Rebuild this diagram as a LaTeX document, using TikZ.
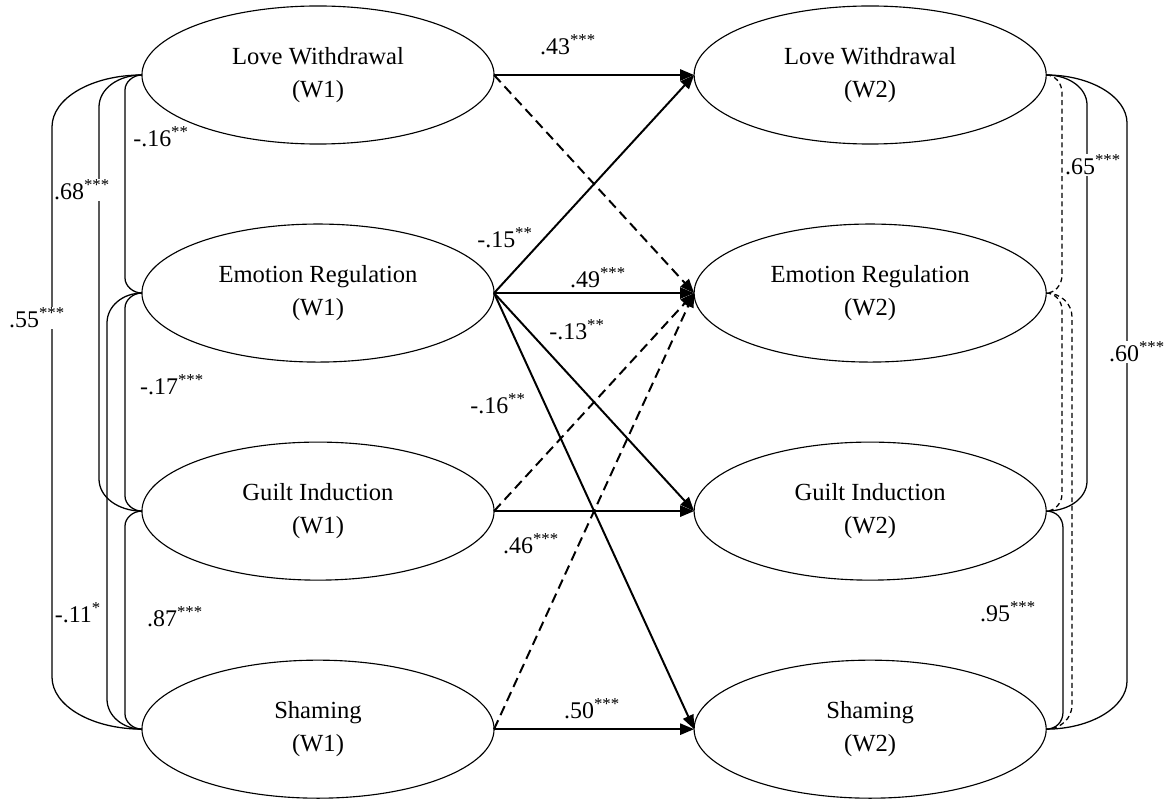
\documentclass[tikz,border=0pt]{standalone}
\usepackage{fontspec}
\setmainfont{Liberation Serif}
\usetikzlibrary{positioning, arrows.meta, shapes.geometric}

\begin{document}
\begin{tikzpicture}[
    x=0.025cm, y=-0.025cm,
    >={Triangle[length=10pt, width=8pt]},
    latent/.style={
        ellipse,
        draw,
        line width=0.8pt,
        minimum width=8.8cm,
        minimum height=3.45cm,
        inner sep=0pt,
        outer sep=0pt,
        align=center,
        font=\fontsize{17.5}{24}\selectfont
    },
    path/.style={
        ->,
        line width=1.4pt
    },
    dpath/.style={
        path,
        dash pattern=on 7pt off 4pt
    },
    cov/.style={
        line width=0.9pt
    },
    dcov/.style={
        cov,
        dash pattern=on 3.5pt off 2.5pt
    },
    coef/.style={
        font=\fontsize{17}{20}\selectfont,
        inner sep=1pt
    },
    coefbg/.style={
        coef,
        fill=white
    }
]
\useasboundingbox (0,0) rectangle (1168,800);

% 1. Wave 1 (left column)
\node[latent] (lw1) at (318,75) {Love Withdrawal\\(W1)};
\node[latent, below=2cm of lw1] (er1) {Emotion Regulation\\(W1)};
\node[latent, below=2cm of er1] (gi1) {Guilt Induction\\(W1)};
\node[latent, below=2cm of gi1] (sh1) {Shaming\\(W1)};

% 2. Wave 2 (right column)
\node[latent, right=5cm of lw1] (lw2) {Love Withdrawal\\(W2)};
\node[latent, below=2cm of lw2] (er2) {Emotion Regulation\\(W2)};
\node[latent, below=2cm of er2] (gi2) {Guilt Induction\\(W2)};
\node[latent, below=2cm of gi2] (sh2) {Shaming\\(W2)};

% 3. Cross-lagged paths
\draw[path] (lw1.east) -- (lw2.west);
\draw[dpath] (lw1.east) -- (er2.west);
\draw[path] (er1.east) -- (lw2.west);
\draw[path] (er1.east) -- (er2.west);
\draw[path] (er1.east) -- (gi2.west);
\draw[path] (er1.east) -- (sh2.west);
\draw[dpath] (gi1.east) -- (er2.west);
\draw[path] (gi1.east) -- (gi2.west);
\draw[dpath] (sh1.east) -- (er2.west);
\draw[path] (sh1.east) -- (sh2.west);

\node[coef] (b43) at (568,45) {.43\textsuperscript{***}};
\node[coef] (b15) at (505,238) {-.15\textsuperscript{**}};
\node[coef] (b49) at (598,278) {.49\textsuperscript{***}};
\node[coef] (b13) at (577,330) {-.13\textsuperscript{**}};
\node[coef] (b16) at (498,404) {-.16\textsuperscript{**}};
\node[coef] (b46) at (531,544) {.46\textsuperscript{***}};
\node[coef] (b50) at (592,709) {.50\textsuperscript{***}};

% 4. Covariances at W1
\draw[cov] (lw1.west) .. controls (133,75) and (125,82) .. (125,90) -- (125,278)
    .. controls (125,286) and (133,293) .. (er1.west);
\draw[cov] (lw1.west) .. controls (118,75) and (99,89) .. (99,107) -- (99,479)
    .. controls (99,497) and (118,511) .. (gi1.west);
\draw[cov] (lw1.west) .. controls (92,75) and (52,98) .. (52,127) -- (52,677)
    .. controls (52,706) and (92,729) .. (sh1.west);
\draw[cov] (er1.west) .. controls (133,293) and (125,300) .. (125,308) -- (125,496)
    .. controls (125,504) and (133,511) .. (gi1.west);
\draw[cov] (er1.west) .. controls (123,293) and (107,306) .. (107,323) -- (107,699)
    .. controls (107,716) and (123,729) .. (sh1.west);
\draw[cov] (gi1.west) .. controls (133,511) and (125,518) .. (125,526) -- (125,714)
    .. controls (125,722) and (133,729) .. (sh1.west);

\node[coef] (r16) at (161,137) {-.16\textsuperscript{**}};
\node[coefbg] (r68) at (82,190) {.68\textsuperscript{***}};
\node[coefbg] (r55) at (37,318) {.55\textsuperscript{***}};
\node[coef] (r17) at (172,385) {-.17\textsuperscript{***}};
\node[coef] (r11) at (78,613) {-.11\textsuperscript{*}};
\node[coef] (r87) at (175,617) {.87\textsuperscript{***}};

% 5. Covariances at W2
\draw[dcov] (lw2.east) .. controls (1055,75) and (1062,83) .. (1062,93) -- (1062,275)
    .. controls (1062,285) and (1055,293) .. (er2.east);
\draw[cov] (lw2.east) .. controls (1069,75) and (1087,88) .. (1087,105) -- (1087,481)
    .. controls (1087,498) and (1069,511) .. (gi2.east);
\draw[cov] (lw2.east) .. controls (1091,75) and (1127,97) .. (1127,123) -- (1127,681)
    .. controls (1127,707) and (1091,729) .. (sh2.east);
\draw[dcov] (er2.east) .. controls (1055,293) and (1062,301) .. (1062,310) -- (1062,494)
    .. controls (1062,503) and (1055,511) .. (gi2.east);
\draw[dcov] (er2.east) .. controls (1061,293) and (1072,304) .. (1072,317) -- (1072,705)
    .. controls (1072,718) and (1061,729) .. (sh2.east);
\draw[cov] (gi2.east) .. controls (1056,511) and (1063,518) .. (1063,528) -- (1063,712)
    .. controls (1063,722) and (1056,729) .. (sh2.east);

\node[coefbg] (r65) at (1093,165) {.65\textsuperscript{***}};
\node[coefbg] (r60) at (1137,352) {.60\textsuperscript{***}};
\node[coef] (r95) at (1008,612) {.95\textsuperscript{***}};

\end{tikzpicture}
\end{document}
